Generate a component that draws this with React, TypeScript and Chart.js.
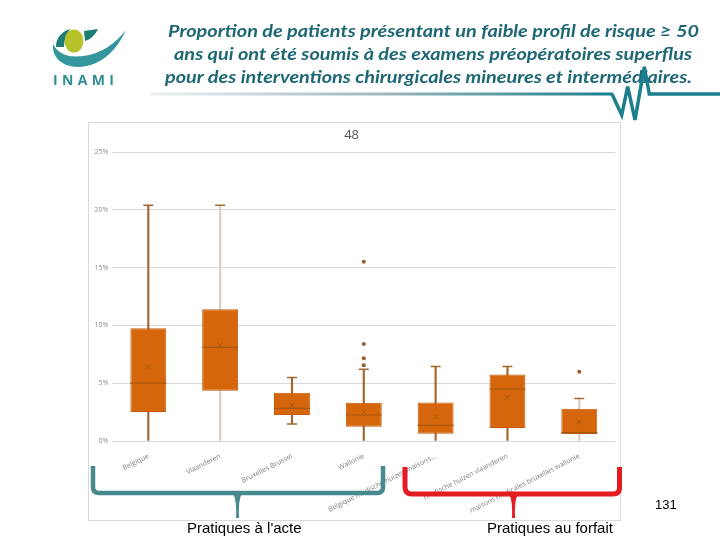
import React, { useEffect, useRef } from "react";
import { Chart, registerables } from "chart.js";

Chart.register(...registerables);

// ---- data (values in %) ----
const categories = [
  "Belgique",
  "Vlaanderen",
  "Bruxelles Brussel",
  "Wallonie",
  "Belgique medische huizen maisons...",
  "medische huizen vlaanderen",
  "maisons médicales bruxelles wallonie",
];
const whiskerMin = [0, 0, 1.47, 0, 0, 0, 0];
const q1 = [2.5, 4.35, 2.25, 1.23, 0.63, 1.12, 0.6];
const medians = [5.0, 8.1, 2.82, 2.25, 1.35, 4.5, 0.72];
const q3 = [9.75, 11.4, 4.17, 3.3, 3.34, 5.76, 2.8];
const whiskerMax = [20.4, 20.4, 5.5, 6.2, 6.45, 6.45, 3.68];
const means = [6.4, 8.3, 3.1, 2.5, 2.1, 3.77, 1.64];
const outlierCategories = ["Wallonie", "Wallonie", "Wallonie", "Wallonie", "maisons médicales bruxelles wallonie"];
const outlierValues = [15.5, 8.4, 7.15, 6.55, 6.0];
const yTicks = [0, 5, 10, 15, 20, 25];
const chartTitle = "48";

// ---- styles ----
const whiskerColors = ["#a3672f", "#dccdb9", "#a3672f", "#a3672f", "#a3672f", "#a3672f", "#dccdb9"];
const BOX_FILL = "#d5660b";
const BOX_BORDER = "#c35c0a";
const DARK = "#a8570f";

function BoxChart() {
  const ref = useRef<HTMLCanvasElement | null>(null);
  useEffect(() => {
    if (!ref.current) return;
    Chart.defaults.font.family = "'Open Sans', sans-serif";
    const chart = new Chart(ref.current, {
      data: {
        labels: categories,
        datasets: [
          {
            type: "bar",
            label: "whisker",
            data: categories.map((_, i) => [whiskerMin[i], whiskerMax[i]]),
            backgroundColor: whiskerColors,
            barThickness: 1.5,
            grouped: false,
            order: 10,
          } as any,
          {
            type: "bar",
            label: "box",
            data: categories.map((_, i) => [q1[i], q3[i]]),
            backgroundColor: BOX_FILL,
            borderColor: BOX_BORDER,
            borderWidth: 1,
            borderSkipped: false,
            barPercentage: 0.5,
            categoryPercentage: 1,
            grouped: false,
            order: 5,
          } as any,
          {
            type: "line",
            label: "median",
            data: medians,
            showLine: false,
            pointStyle: "line",
            pointRadius: 18,
            pointBorderColor: DARK,
            pointBorderWidth: 1.2,
            order: 2,
          } as any,
          {
            type: "line",
            label: "capMax",
            data: whiskerMax,
            showLine: false,
            pointStyle: "line",
            pointRadius: 5,
            pointBorderColor: "#a3672f",
            pointBorderWidth: 1.5,
            order: 2,
          } as any,
          {
            type: "line",
            label: "capMin",
            data: whiskerMin.map((v) => (v > 0 ? v : null)),
            showLine: false,
            pointStyle: "line",
            pointRadius: 5,
            pointBorderColor: "#a3672f",
            pointBorderWidth: 1.5,
            order: 2,
          } as any,
          {
            type: "line",
            label: "mean",
            data: means,
            showLine: false,
            pointStyle: "crossRot",
            pointRadius: 3.5,
            pointBorderColor: DARK,
            pointBorderWidth: 1,
            order: 1,
          } as any,
          {
            type: "line",
            label: "outliers",
            data: outlierValues.map((v, i) => ({ x: outlierCategories[i], y: v })),
            showLine: false,
            pointStyle: "circle",
            pointRadius: 2,
            pointBackgroundColor: "#9c5a2c",
            pointBorderWidth: 0,
            order: 0,
          } as any,
        ],
      },
      options: {
        responsive: false,
        animation: false,
        events: [],
        layout: { autoPadding: false, padding: { left: 0, right: 5.8, top: 0, bottom: 0 } },
        plugins: {
          legend: { display: false },
          tooltip: { enabled: false },
          title: {
            display: true,
            text: chartTitle,
            color: "#595959",
            font: { size: 13, weight: "normal" },
            padding: { top: 5, bottom: 9.4 },
          },
        },
        scales: {
          x: {
            type: "category",
            offset: true,
            grid: { display: false },
            border: { display: false },
            ticks: {
              autoSkip: false,
              minRotation: 27,
              maxRotation: 27,
              padding: 3,
              color: "#7f7f7f",
              font: { size: 7 },
            },
            afterFit: (s: any) => {
              s.height = 81;
              s.paddingLeft = 0;
              s.paddingRight = 0;
            },
          },
          y: {
            min: 0,
            max: 25,
            afterBuildTicks: (s: any) => {
              s.ticks = yTicks.map((v) => ({ value: v }));
            },
            ticks: {
              padding: 4,
              color: "#8c8c8c",
              font: { size: 7 },
              callback: (v: any) => v + "%",
            },
            grid: { color: "#d9d9d9", drawTicks: false },
            border: { display: false },
            afterFit: (s: any) => {
              s.width = 24.4;
            },
          },
        },
      } as any,
    });
    return () => chart.destroy();
  }, []);
  return (
    <canvas
      ref={ref}
      width={533}
      height={400}
      style={{ position: "absolute", left: 88, top: 122, width: 533, height: 400 }}
    />
  );
}

export default function App() {
  const titleFont = "Lato, 'Open Sans', sans-serif";
  return (
    <div
      style={{
        position: "absolute",
        left: 0,
        top: 0,
        width: 720,
        height: 540,
        background: "#ffffff",
        overflow: "hidden",
      }}
    >
      <div
        style={{
          position: "absolute",
          left: 88,
          top: 122,
          width: 533,
          height: 399,
          border: "1px solid #d9d9d9",
          boxSizing: "border-box",
        }}
      />
      <BoxChart />
      <svg
        width={720}
        height={540}
        style={{ position: "absolute", left: 0, top: 0, pointerEvents: "none" }}
      >
        <defs>
          <linearGradient id="hdr" gradientUnits="userSpaceOnUse" x1={150} y1={0} x2={610} y2={0}>
            <stop offset="0" stopColor="#eef0f0" />
            <stop offset="0.5" stopColor="#9fb8bc" />
            <stop offset="1" stopColor="#1b7f8e" />
          </linearGradient>
        </defs>
        {/* logo */}
        <path d="M56 47 C56 38 61 32 70 29 C66 35 64 41 64 47 Z" fill="#1d7d74" />
        <path d="M84 31 L98 29 C95 35 91 39 85 41 Z" fill="#1d7d74" />
        <ellipse cx={74} cy={41} rx={9.5} ry={11.5} fill="#b5c229" />
        <path
          d="M53 44 C51 63 73 73 96 63 C109 57 119 45 126 30 C115 44 101 54 83 56 C68 58 58 54 53 44 Z"
          fill="#33979d"
        />
        <text
          x={53}
          y={85}
          fontFamily="'Open Sans', sans-serif"
          fontWeight={700}
          fontSize={14}
          fill="#2f8f96"
          textLength={61}
          lengthAdjust="spacing"
        >
          INAMI
        </text>
        {/* title */}
        <g fontFamily={titleFont} fontStyle="italic" fontWeight={700} fontSize={17} fill="#1e6774">
          <text x={168} y={37} textLength={531} lengthAdjust="spacingAndGlyphs">
            Proportion de patients présentant un faible profil de risque ≥ 50
          </text>
          <text x={174} y={60} textLength={518} lengthAdjust="spacingAndGlyphs">
            ans qui ont été soumis à des examens préopératoires superflus
          </text>
          <text x={165} y={82.5} textLength={527} lengthAdjust="spacingAndGlyphs">
            pour des interventions chirurgicales mineures et intermédiaires.
          </text>
        </g>
        <path d="M150 94 L613 94" stroke="url(#hdr)" strokeWidth={3} fill="none" />
        <path
          d="M612 94 L621.7 115 L627.7 86.7 L635 120 L644.3 66.7 L649.3 94 L720 94"
          stroke="#1b7f8e"
          strokeWidth={3.5}
          strokeLinejoin="miter"
          fill="none"
        />
        {/* brackets */}
        <path
          d="M93 466 L93 487 Q93 493 99 493 L377 493 Q383 493 383 487 L383 466"
          stroke="#468a90"
          strokeWidth={4.5}
          fill="none"
        />
        <path d="M231 491 Q237 495 236 518 L239 518 Q238 495 244 491 Z" fill="#468a90" />
        <path
          d="M405 467 L405 487 Q405 494 412 494 L613 494 Q619.5 494 619.5 488 L619.5 467"
          stroke="#e31b23"
          strokeWidth={5}
          fill="none"
        />
        <path d="M507 492 Q513 496 512 518 L515 518 Q514 496 520 492 Z" fill="#e31b23" />
        <g fontFamily="'Liberation Sans', Arial, sans-serif" fill="#000000">
          <text x={187} y={533} fontSize={15}>
            Pratiques à l'acte
          </text>
          <text x={487} y={533} fontSize={15}>
            Pratiques au forfait
          </text>
          <text x={655} y={509} fontSize={13}>
            131
          </text>
        </g>
      </svg>
    </div>
  );
}
